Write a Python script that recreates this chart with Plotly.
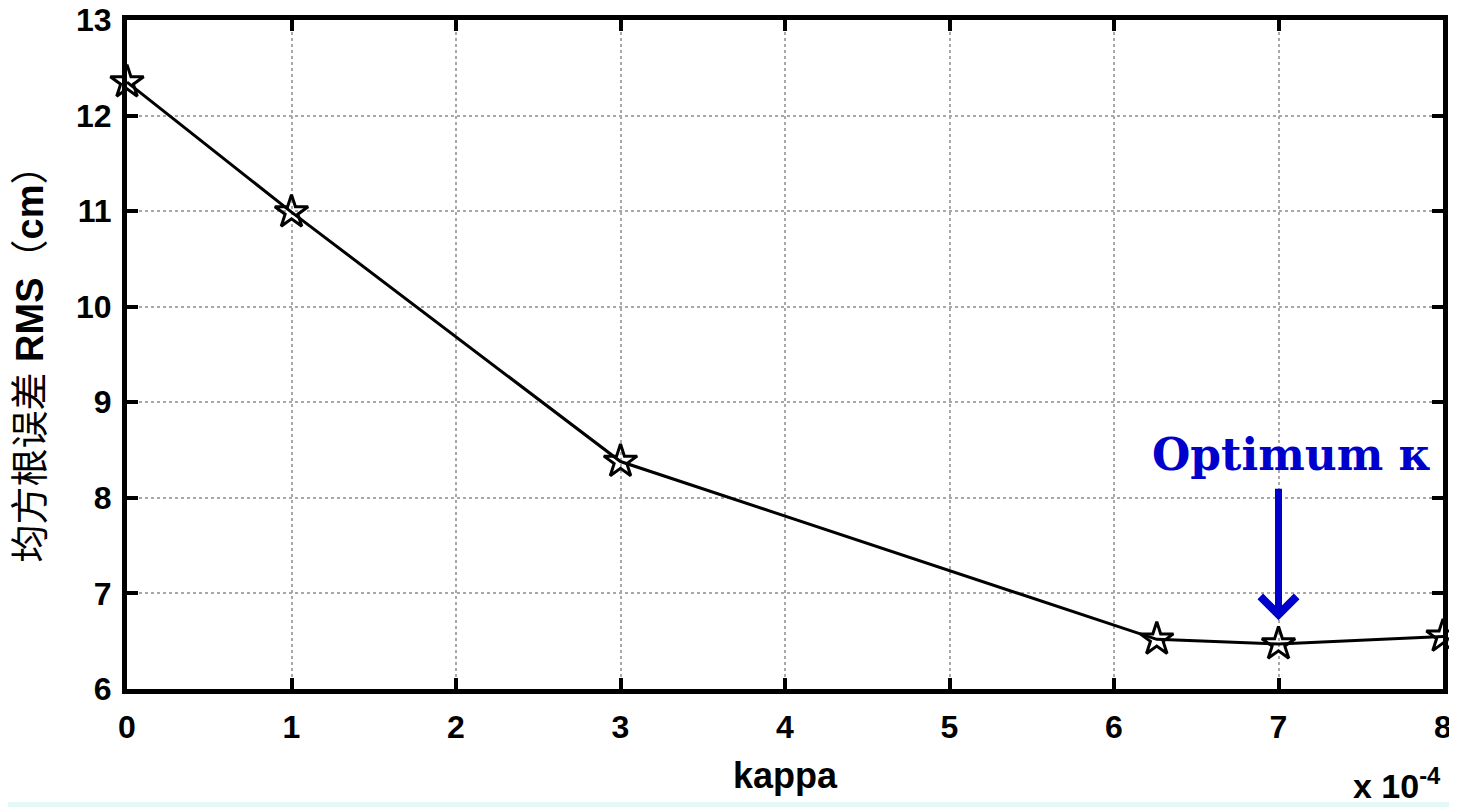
import plotly.graph_objects as go

kappa = [0, 1, 3, 6.26, 7, 8]
rms = [12.35, 10.99, 8.38, 6.52, 6.47, 6.55]
x_ticks = [0, 1, 2, 3, 4, 5, 6, 7, 8]
y_ticks = [6, 7, 8, 9, 10, 11, 12, 13]

fig = go.Figure()
fig.add_trace(go.Scatter(
    x=kappa, y=rms, mode="lines+markers",
    line=dict(color="black", width=3),
    marker=dict(symbol="star-open", size=25, color="black", line=dict(width=3, color="black")),
    showlegend=False, cliponaxis=False,
))

axis_common = dict(
    showline=True, linecolor="black", linewidth=5, mirror="ticks",
    ticks="inside", ticklen=11, tickwidth=4, tickcolor="black",
    showgrid=True, gridcolor="#a8a8a8", griddash="dot", gridwidth=2,
    zeroline=False, automargin=False, ticklabeloverflow="allow",
    tickfont=dict(family="Liberation Sans", size=32, color="black", weight="bold"),
)

fig.update_xaxes(range=[0, 8], tickvals=x_ticks, ticklabelstandoff=6, **axis_common)
fig.update_yaxes(range=[6, 13], tickvals=y_ticks, ticklabelstandoff=4, **axis_common)

# axis titles
fig.add_annotation(x=0.5, y=0, xref="paper", yref="paper", yshift=-86, yanchor="middle",
                   text="<b>kappa</b>", showarrow=False,
                   font=dict(family="Liberation Sans", size=36, color="black"))
fig.add_annotation(x=0, y=0.50, xref="paper", yref="paper", xshift=-98, xanchor="center",
                   textangle=-90, text="均方根误差 <b>RMS</b>（<b>cm</b>）", showarrow=False,
                   font=dict(family="Liberation Sans, Noto Sans CJK SC", size=38, color="black"))

# optimum marker
fig.add_annotation(x=7, y=6.72, ax=7, ay=8.11, xref="x", yref="y", axref="x", ayref="y",
                   text="", showarrow=True, arrowhead=4, arrowsize=1, arrowwidth=7, arrowcolor="#0000CC")
fig.add_annotation(x=7.08, y=8.45, xref="x", yref="y", text="<b>Optimum κ</b>", showarrow=False,
                   font=dict(family="DejaVu Serif", size=44, color="#0000CC"))

# exponent label
fig.add_annotation(x=1.0, y=0, xref="paper", yref="paper", yshift=-118, xanchor="right", yanchor="bottom",
                   text="<b>x 10<sup>-4</sup></b>", showarrow=False,
                   font=dict(family="Liberation Sans", size=34, color="black"))

# faint band at the bottom edge
fig.add_shape(type="rect", xref="paper", yref="paper",
              x0=-119 / 1316, x1=1330 / 1316, y0=-118 / 669, y1=-113 / 669,
              fillcolor="#e4f8f8", line=dict(width=0), layer="below")

fig.update_layout(
    width=1449, height=799,
    margin=dict(l=119, r=14, t=12, b=118),
    plot_bgcolor="white", paper_bgcolor="white",
)
fig.write_html("out.html")
